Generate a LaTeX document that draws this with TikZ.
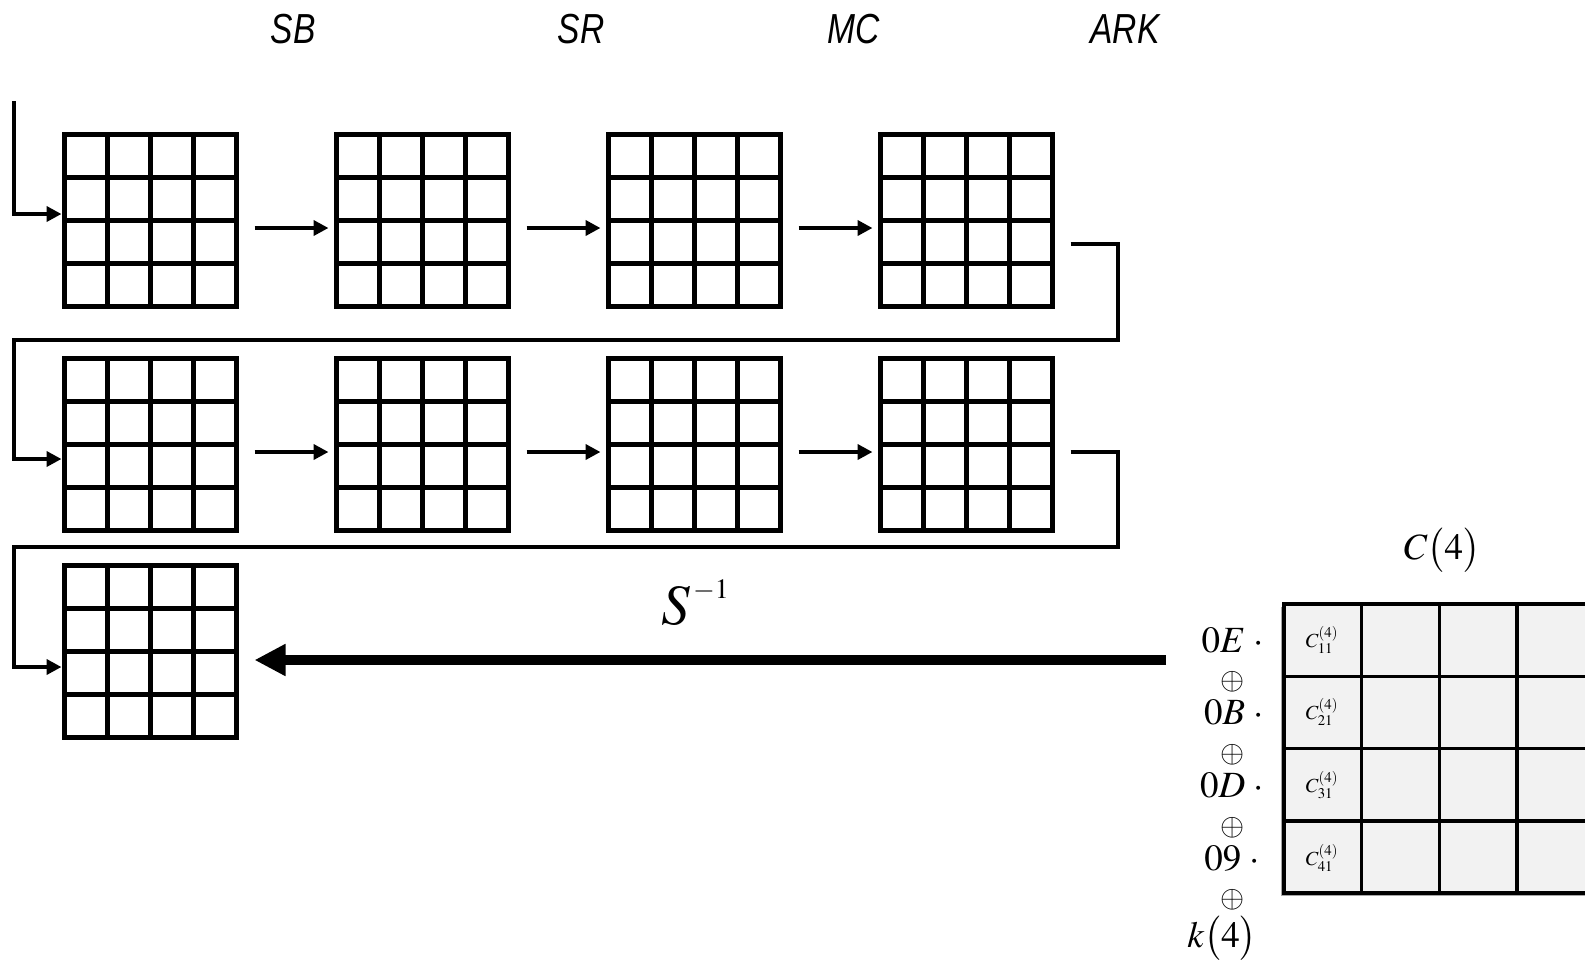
\documentclass[tikz,border=0pt]{standalone}
\usepackage{mathptmx}
\usepackage{fontspec}
\setmainfont{Liberation Serif}
\newfontfamily\labfont[FakeStretch=0.8]{Liberation Sans}
\usetikzlibrary{arrows.meta,calc,shadows}
\tikzset{
  quarterlines/.style={path picture={
    \foreach \i in {1,2,3}{
      \draw[line width=#1] ($(path picture bounding box.south west)!\i/4!(path picture bounding box.south east)$) -- ($(path picture bounding box.north west)!\i/4!(path picture bounding box.north east)$);
      \draw[line width=#1] ($(path picture bounding box.south west)!\i/4!(path picture bounding box.north west)$) -- ($(path picture bounding box.south east)!\i/4!(path picture bounding box.north east)$);
    }}},
  cellgrid/.style={draw, line width=5pt, minimum width=172pt, minimum height=172pt, inner sep=0pt, quarterlines=5pt},
  cmat/.style={draw, line width=3.5pt, fill=black!5, minimum width=310.5pt, minimum height=289pt, inner sep=0pt, outer sep=0pt,
    drop shadow={shadow xshift=-3pt, shadow yshift=-3pt, opacity=.35, fill=black}, quarterlines=3.5pt},
  conn/.style={line width=4.5pt},
  arr/.style={line width=4.5pt, -{Triangle[length=15pt,width=15pt]}},
  bigarr/.style={line width=10pt, -{Triangle[length=31pt,width=30pt]}},
  steplabel/.style={font=\labfont\itshape\fontsize{42}{46}\selectfont, inner sep=0pt},
  mlabel/.style={font=\fontsize{37}{40}\selectfont, inner sep=0pt},
  oplabel/.style={font=\fontsize{31}{31}\selectfont, inner sep=0pt},
  clabel/.style={font=\fontsize{20}{22}\selectfont, inner sep=0pt}
}
\begin{document}
\begin{tikzpicture}[x=1pt,y=-1pt]
\useasboundingbox (0,0) rectangle (1585,959);
\clip (0,0) rectangle (1585,959);

% step labels
\node[steplabel] (lsb) at (293,29) {SB};
\node[steplabel] (lsr) at (581,29) {SR};
\node[steplabel] (lmc) at (854,29) {MC};
\node[steplabel] (lark) at (1125,29) {ARK};

% grids
\foreach \c/\x in {1/150,2/422,3/694,4/966}{
  \node[cellgrid] (g1\c) at (\x,220) {};
  \node[cellgrid] (g2\c) at (\x,444) {};
}
\node[cellgrid] (g31) at (150,651) {};

% entry arrow
\coordinate (in) at (14,101);
\draw[arr] (in) |- ([yshift=6pt]g11.west);

% row arrows
\foreach \a/\b in {1/2,2/3,3/4}{
  \draw[arr] ([xshift=16pt,yshift=-8pt]g1\a.east) -- ([xshift=-5pt,yshift=-8pt]g1\b.west);
  \draw[arr] ([xshift=16pt,yshift=-8pt]g2\a.east) -- ([xshift=-5pt,yshift=-8pt]g2\b.west);
}

% wrap connectors
\coordinate (r1) at (1118,340);
\coordinate (l1) at (14,340);
\draw[arr] ([xshift=16pt,yshift=-24pt]g14.east) -| (r1) -- (l1) |- ([yshift=-15pt]g21.west);
\coordinate (r2) at (1118,547);
\coordinate (l2) at (14,547);
\draw[arr] ([xshift=16pt,yshift=-8pt]g24.east) -| (r2) -- (l2) |- ([yshift=-16pt]g31.west);

% S^-1 arrow
\coordinate (src) at (1166,660);
\draw[bigarr] (src) -- ([xshift=16pt,yshift=-9pt]g31.east);
\node[inner sep=0pt, anchor=base west] (sinv) at (661,624) {\fontsize{57}{60}\selectfont$S$\kern3pt\raisebox{26pt}{\fontsize{28}{30}\selectfont$-1$}};

% C(4) matrix
\node[cmat, anchor=north west] (cm) at (1284,604) {};
\node[mlabel, anchor=base] (ctitle) at (1442,559) {$C\bigl(4\bigr)$};
\node[clabel] (c11) at (1322,640) {$C_{11}^{(4)}$};
\node[clabel] (c21) at (1322,712) {$C_{21}^{(4)}$};
\node[clabel] (c31) at (1322,785) {$C_{31}^{(4)}$};
\node[clabel] (c41) at (1322,858) {$C_{41}^{(4)}$};

% left factors
\node[mlabel, anchor=base east] (m1) at (1264,652) {$0E\;\cdot$};
\node[oplabel] (o1) at (1233,682) {$\oplus$};
\node[mlabel, anchor=base east] (m2) at (1264,724) {$0B\;\cdot$};
\node[oplabel] (o2) at (1233,755) {$\oplus$};
\node[mlabel, anchor=base east] (m3) at (1264,797) {$0D\;\cdot$};
\node[oplabel] (o3) at (1233,828) {$\oplus$};
\node[mlabel, anchor=base east] (m4) at (1260,870) {$09\;\cdot$};
\node[oplabel] (o4) at (1233,900) {$\oplus$};
\node[mlabel, anchor=base] (k4) at (1222,947) {$k\bigl(4\bigr)$};
\end{tikzpicture}
\end{document}
